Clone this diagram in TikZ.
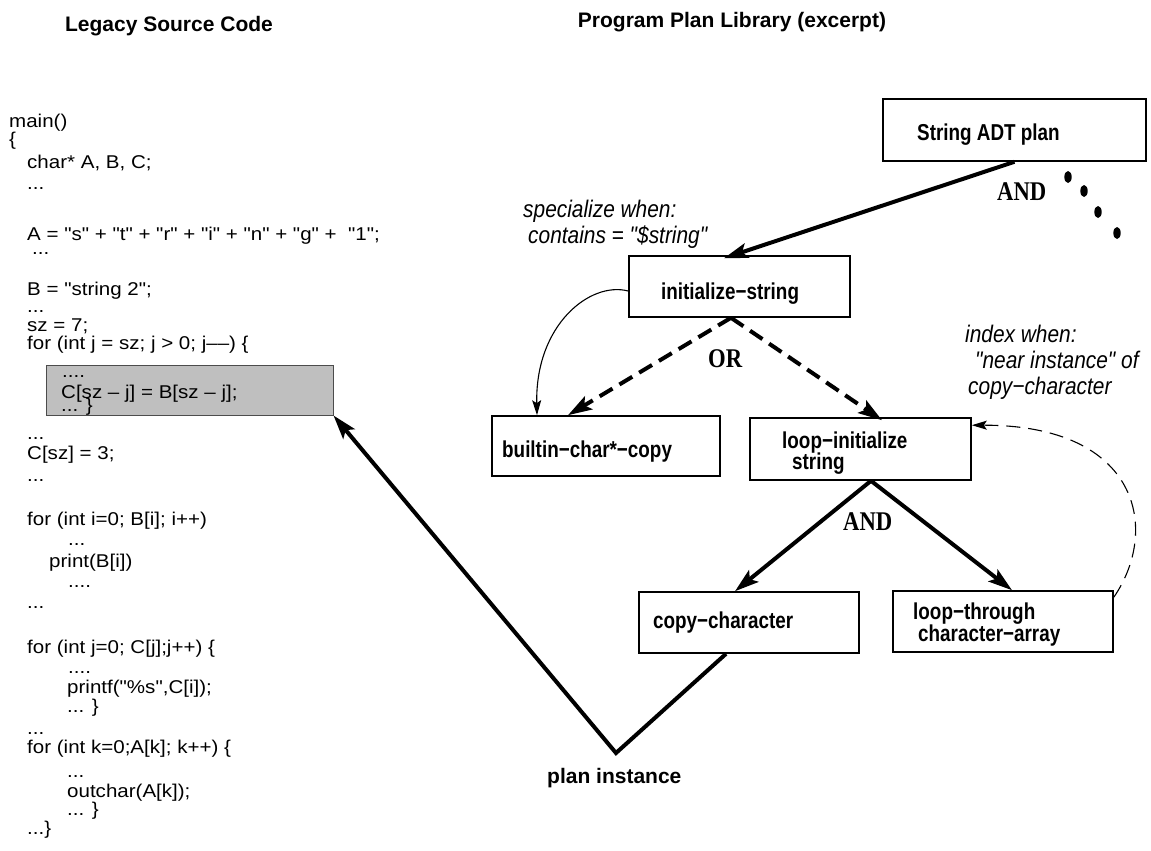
\documentclass[tikz,border=0pt]{standalone}
\usepackage{fontspec}
\setmainfont{Liberation Sans}[Ligatures=TeXOff]
\newfontfamily\codefont[FakeStretch=1.11,Ligatures=TeXOff]{Liberation Sans}
\newfontfamily\lblfont[FakeStretch=0.82,Ligatures=TeXOff]{Liberation Sans}
\newfontfamily\itlfont[FakeStretch=0.87,Ligatures=TeXOff]{Liberation Sans}
\newfontfamily\opfont[FakeStretch=0.84,Ligatures=TeXOff]{Liberation Serif}
\usetikzlibrary{arrows.meta,calc}
\begin{document}
\begin{tikzpicture}[x=1pt,y=-1pt,
  code/.style={anchor=base west, inner sep=0pt, font=\codefont\fontsize{18.5}{20}\selectfont},
  ttl/.style={anchor=base, inner sep=0pt, font=\bfseries\fontsize{21}{24}\selectfont},
  lbl/.style={anchor=base west, inner sep=0pt, font=\lblfont\bfseries\fontsize{23}{26}\selectfont},
  itl/.style={anchor=base west, inner sep=0pt, font=\itlfont\itshape\fontsize{24}{26}\selectfont},
  op/.style={anchor=base west, inner sep=0pt, font=\opfont\bfseries\fontsize{27}{30}\selectfont},
  planbox/.style={draw, line width=1.6pt, inner sep=0pt},
  hlbox/.style={draw=black!70, fill=black!25, line width=1pt, inner sep=0pt},
  thickarrow/.style={line width=4pt, -{Stealth[length=24pt,width=15pt,inset=5pt]}},
  dasharrow/.style={line width=4pt, dash pattern=on 15pt off 8pt, -{Stealth[length=24pt,width=15pt,inset=5pt]}},
  thinarrow/.style={line width=1.1pt, -{Stealth[length=15pt,width=9pt,inset=3pt]}},
  dashthin/.style={line width=1.1pt, dash pattern=on 14pt off 8pt, -{Stealth[length=15pt,width=9pt,inset=3pt]}}
]
\fill[white] (0,0) rectangle (1151,851);
\path[use as bounding box] (0,0) rectangle (1151,851);

% titles
\node[ttl] (tl) at (169,31.7) {Legacy Source Code};
\node[ttl] (tr) at (732,27.3) {Program Plan Library (excerpt)};

% highlighted code region
\node[hlbox, minimum width=287pt, minimum height=50pt] (hl) at (189.5,390) {};

% code lines
\node[code] (c1) at (9,127) {main()};
\node[code] (c2) at (9,145) {\{};
\node[code] (c3) at (27,168) {char* A, B, C;};
\node[code] (c4) at (27,189) {...};
\node[code] (c5) at (27,240) {A = "s" + "t" + "r" + "i" + "n" + "g" +\ \ "1";};
\node[code] (c6) at (32,254) {...};
\node[code] (c7) at (27,295) {B = "string 2";};
\node[code] (c8) at (27,312) {...};
\node[code] (c9) at (27,331) {sz = 7;};
\node[code] (c10) at (27,349.5) {for (int j = sz; j > 0; j––) \{};
\node[code] (c11) at (62,377) {....};
\node[code] (c12) at (61,398) {C[sz – j] = B[sz – j];};
\node[code] (c13) at (61,411) {... \}};
\node[code] (c14) at (27,439) {...};
\node[code] (c15) at (27,459) {C[sz] = 3;};
\node[code] (c16) at (27,481) {...};
\node[code] (c17) at (27,525) {for (int i=0; B[i]; i++)};
\node[code] (c18) at (68,545) {...};
\node[code] (c19) at (49,567) {print(B[i])};
\node[code] (c20) at (68,587) {....};
\node[code] (c21) at (27,608) {...};
\node[code] (c22) at (27,653) {for (int j=0; C[j];j++) \{};
\node[code] (c23) at (68,673) {....};
\node[code] (c24) at (67,693) {printf("\%s",C[i]);};
\node[code] (c25) at (67,712) {... \}};
\node[code] (c26) at (27,734) {...};
\node[code] (c27) at (27,753) {for (int k=0;A[k]; k++) \{};
\node[code] (c28) at (67,777) {...};
\node[code] (c29) at (67,797) {outchar(A[k]);};
\node[code] (c30) at (67,815) {... \}};
\node[code] (c31) at (27,834) {...\}};

% plan boxes
\node[planbox, minimum width=263pt, minimum height=62pt] (adt) at (1014.5,130) {};
\node[planbox, minimum width=221pt, minimum height=61pt] (init) at (739.5,286.5) {};
\node[planbox, minimum width=228pt, minimum height=60pt] (bcc) at (606,446) {};
\node[planbox, minimum width=221pt, minimum height=62pt] (li) at (860.5,449) {};
\node[planbox, minimum width=220pt, minimum height=61pt] (cc) at (749,622.5) {};
\node[planbox, minimum width=220pt, minimum height=61pt] (lt) at (1003,621.5) {};

% box labels
\node[lbl] (tadt) at (917,140) {String ADT plan};
\node[lbl] (tinit) at (661,299) {initialize−string};
\node[lbl] (tbcc) at (502,457) {builtin−char*−copy};
\node[lbl] (tli1) at (782,448) {loop−initialize};
\node[lbl] (tli2) at (792,469) {string};
\node[lbl] (tcc) at (653,628) {copy−character};
\node[lbl] (tlt1) at (913,619) {loop−through};
\node[lbl] (tlt2) at (918,641) {character−array};

% annotations
\node[itl] (s1) at (523,217) {specialize when:};
\node[itl] (s2) at (528,243) {contains = "\$string"};
\node[itl] (i1) at (965,342) {index when:};
\node[itl] (i2) at (975,368) {"near instance" of};
\node[itl] (i3) at (968,394) {copy−character};

\node[op] (and1) at (997,200) {AND};
\node[op] (or1) at (708,367) {OR};
\node[op] (and2) at (843,530) {AND};

% dots
\fill (1068,177) ellipse [x radius=3.7pt, y radius=6pt];
\fill (1084,191) ellipse [x radius=3.7pt, y radius=6pt];
\fill (1098,212) ellipse [x radius=3.7pt, y radius=6pt];
\fill (1117,233) ellipse [x radius=3.7pt, y radius=6pt];

% connectors
\draw[thickarrow] (adt.south) -- ([xshift=-15.5pt,yshift=-3pt]init.north);
\draw[dasharrow] ([xshift=-8.5pt]init.south) -- ([xshift=-38pt]bcc.north);
\draw[dasharrow] ([xshift=-8.5pt]init.south) -- ([xshift=21.5pt,yshift=-3pt]li.north);
\draw[thinarrow] ([yshift=-4.5pt]init.west) .. controls (590,281) and (535,325) .. ([xshift=-69pt]bcc.north);
\draw[thickarrow] ([xshift=10.5pt]li.south) -- ([xshift=-14pt]cc.north);
\draw[thickarrow] ([xshift=10.5pt]li.south) -- ([xshift=9pt]lt.north);
\draw[dashthin] ([yshift=-7pt]lt.north east) .. controls (1160,530) and (1140,425) .. ([yshift=-8pt]li.north east);

\coordinate (pv) at (616,753);
\draw[thickarrow, line join=miter] ([xshift=-23pt]cc.south) -- (pv) -- (hl.south east);
\node[anchor=base west, inner sep=0pt, font=\bfseries\fontsize{21}{24}\selectfont] (pin) at (547,783) {plan instance};
\end{tikzpicture}
\end{document}
